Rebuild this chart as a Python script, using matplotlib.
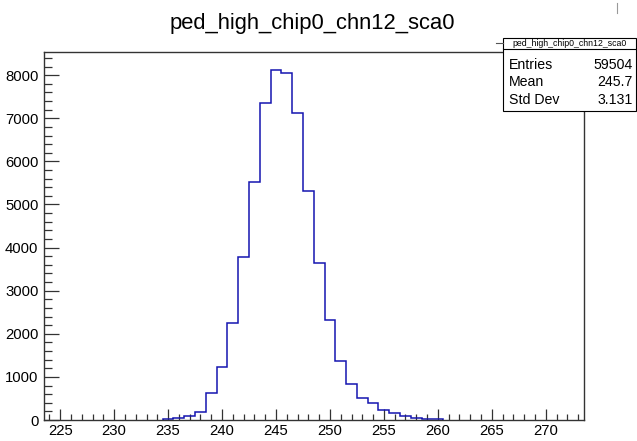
import matplotlib
matplotlib.use("Agg")
import matplotlib.pyplot as plt
import numpy as np
from matplotlib.patches import Rectangle
from matplotlib.lines import Line2D
from matplotlib.ticker import MultipleLocator

plt.rcParams['font.family'] = ['Liberation Sans', 'DejaVu Sans']

# ---- data ----
title = "ped_high_chip0_chn12_sca0"
bin_centers = [235, 236, 237, 238, 239, 240, 241, 242, 243, 244, 245, 246, 247,
               248, 249, 250, 251, 252, 253, 254, 255, 256, 257, 258, 259, 260]
counts = [15, 40, 90, 186, 633, 1223, 2258, 3793, 5522, 7348, 8121, 8058, 7116,
          5320, 3650, 2313, 1376, 828, 503, 387, 232, 169, 100, 53, 16, 14]
stat_labels = ["Entries", "Mean", "Std Dev"]
stat_values = ["59504", "245.7", "3.131"]
x_range = (223.5, 273.5)
y_max = 8531

W, H = 637, 441
fig = plt.figure(figsize=(W / 100, H / 100), dpi=100)

def fx(px):
    return px / W

def fy(py):
    return 1 - py / H

left, right, top, bottom = 44, 583.5, 52.3, 420
ax = fig.add_axes([fx(left), fy(bottom), fx(right) - fx(left), fy(top) - fy(bottom)])

edges = np.concatenate([np.array(bin_centers) - 0.5, [bin_centers[-1] + 0.5]])
ax.stairs(counts, edges, baseline=0, fill=False, color='#1515b0', linewidth=1.1, zorder=2)

ax.set_xlim(*x_range)
ax.set_ylim(0, y_max)
ax.xaxis.set_major_locator(MultipleLocator(5))
ax.xaxis.set_minor_locator(MultipleLocator(1))
ax.yaxis.set_major_locator(MultipleLocator(1000))
ax.yaxis.set_minor_locator(MultipleLocator(200))
ax.tick_params(axis='x', which='major', direction='in', length=7.9, width=0.9,
               labelsize=10.7, pad=3, color='#333333')
ax.tick_params(axis='x', which='minor', direction='in', length=4.0, width=0.9, color='#333333')
ax.tick_params(axis='y', which='major', direction='in', length=10.8, width=0.9,
               labelsize=10.7, pad=4, color='#333333')
ax.tick_params(axis='y', which='minor', direction='in', length=5.4, width=0.9, color='#333333')
ax.tick_params(top=False, right=False)
for s in ax.spines.values():
    s.set_linewidth(1.0)
    s.set_color('#333333')
    s.set_zorder(3)

fig.text(fx(312), fy(23), title, ha='center', va='center', fontsize=15.8)

# stats box
hdr = Rectangle((fx(503), fy(48.5)), fx(636) - fx(503), fy(38) - fy(48.5),
                transform=fig.transFigure, facecolor='white', edgecolor='black', linewidth=0.8)
box = Rectangle((fx(503), fy(111)), fx(636) - fx(503), fy(48.5) - fy(111),
                transform=fig.transFigure, facecolor='white', edgecolor='black', linewidth=0.8)
fig.add_artist(box)
fig.add_artist(hdr)
fig.text(fx(569.5), fy(43.5), title, ha='center', va='center', fontsize=6.3)
row_y = [65, 82.5, 100]
for lab, val, yy in zip(stat_labels, stat_values, row_y):
    fig.text(fx(509), fy(yy), lab, ha='left', va='center', fontsize=10.2)
    fig.text(fx(633), fy(yy), val, ha='right', va='center', fontsize=10.2)

fig.add_artist(Line2D([fx(496), fx(503)], [fy(43), fy(43)], transform=fig.transFigure,
                      color='#555555', linewidth=0.8))
fig.add_artist(Line2D([fx(617), fx(617)], [fy(3), fy(13)], transform=fig.transFigure,
                      color='#999999', linewidth=0.8))

fig.savefig("out.png", dpi=100)
